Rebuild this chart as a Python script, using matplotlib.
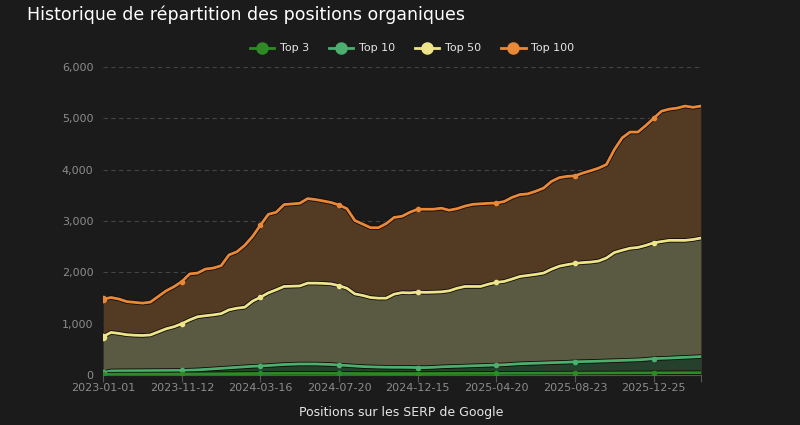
import matplotlib
matplotlib.use("Agg")
import matplotlib.pyplot as plt
import matplotlib.patheffects as pe
from matplotlib.lines import Line2D
from matplotlib.ticker import FuncFormatter

# values, one point per category step
top100 = [1478, 1510, 1480, 1430, 1415, 1400, 1420, 1530, 1640, 1720,
          1820, 1970, 1986, 2064, 2083, 2130, 2340, 2400, 2526, 2700,
          2920, 3130, 3170, 3320, 3333, 3345, 3437, 3418, 3390, 3360,
          3310, 3240, 3010, 2940, 2870, 2870, 2950, 3070, 3092, 3170,
          3230, 3230, 3230, 3250, 3210, 3240, 3290, 3325, 3335, 3345,
          3350, 3380, 3460, 3515, 3529, 3580, 3640, 3770, 3845, 3870,
          3880, 3935, 3980, 4030, 4100, 4390, 4620, 4733, 4733, 4860,
          5000, 5140, 5180, 5200, 5240, 5215, 5240]
top50 = [750, 830, 810, 785, 775, 770, 780, 840, 900, 940,
         1000, 1074, 1135, 1155, 1172, 1195, 1270, 1302, 1320, 1440,
         1515, 1600, 1660, 1725, 1730, 1735, 1790, 1790, 1785, 1775,
         1740, 1690, 1580, 1550, 1510, 1497, 1497, 1575, 1605, 1600,
         1615, 1610, 1614, 1620, 1640, 1690, 1725, 1725, 1725, 1770,
         1805, 1823, 1870, 1920, 1940, 1960, 1986, 2060, 2120, 2150,
         2175, 2190, 2200, 2220, 2280, 2385, 2430, 2470, 2485, 2525,
         2575, 2600, 2623, 2623, 2623, 2640, 2668]
top10 = [45, 80, 82, 83, 84, 85, 86, 87, 88, 89,
         90, 95, 100, 110, 120, 130, 140, 150, 160, 170,
         176, 185, 195, 205, 210, 215, 215, 215, 210, 205,
         195, 185, 175, 165, 160, 155, 152, 150, 150, 148,
         145, 145, 150, 160, 165, 170, 175, 180, 185, 190,
         195, 200, 210, 220, 225, 230, 235, 240, 245, 250,
         258, 262, 265, 270, 275, 280, 285, 290, 295, 305,
         320, 325, 330, 338, 345, 352, 360]
top3 = [10, 18, 18, 19, 19, 19, 20, 20, 20, 21,
        21, 22, 22, 23, 24, 25, 26, 27, 28, 29,
        30, 30, 31, 31, 32, 32, 32, 32, 31, 31,
        30, 30, 29, 29, 28, 28, 28, 28, 28, 28,
        28, 28, 29, 29, 30, 30, 31, 31, 32, 32,
        33, 33, 34, 34, 35, 35, 36, 36, 37, 37,
        38, 38, 39, 39, 40, 40, 41, 41, 42, 42,
        43, 43, 44, 44, 45, 45, 46]
tick_labels = ["2023-01-01", "2023-11-12", "2024-03-16", "2024-07-20",
               "2024-12-15", "2025-04-20", "2025-08-23", "2025-12-25"]
tick_every = 10

bg = "#1b1b1b"
series = [
    ("Top 100", top100, "#e8893a", "#533a23"),
    ("Top 50", top50, "#eee48a", "#5a5941"),
    ("Top 10", top10, "#4caf6e", "#25402d"),
    ("Top 3", top3, "#2f8a25", "#20381f"),
]

fig = plt.figure(figsize=(8, 4.25), dpi=100, facecolor=bg)
ax = fig.add_axes([0.129, 0.1176, 0.747, 0.7247], facecolor=bg)

x = list(range(len(top100)))
for name, vals, lc, fc in series:
    ax.fill_between(x, 0, vals, color=fc, lw=0, zorder=1)
for name, vals, lc, fc in series:
    ax.plot(x, vals, color=lc, lw=2, zorder=3, solid_joinstyle="round",
            path_effects=[pe.Stroke(linewidth=3.2, foreground="#0e0a08"), pe.Normal()])
    ax.plot(x[::tick_every], vals[::tick_every], ls="none", marker="o", ms=3,
            color=lc, zorder=4)
    ax.plot(x[:1], vals[:1], ls="none", marker="o", ms=4.5, color=lc, zorder=4)

ax.set_xlim(0, len(x) - 1)
ax.set_ylim(0, 6000)
ax.set_yticks(range(0, 6001, 1000))
ax.yaxis.set_major_formatter(FuncFormatter(lambda v, p: f"{int(v):,}"))
ax.set_xticks(list(range(0, len(tick_labels) * tick_every, tick_every)) + [len(x) - 1])
ax.set_xticklabels(tick_labels + [""])
ax.grid(axis="y", color="#444444", linestyle=(0, (4, 3)), lw=0.8, zorder=0)
ax.set_axisbelow(True)
for s in ["top", "right", "left"]:
    ax.spines[s].set_visible(False)
ax.spines["bottom"].set_color("#555555")
ax.tick_params(axis="y", length=0, colors="#8c8c8c", labelsize=8, pad=7)
ax.tick_params(axis="x", length=5, color="#555555", colors="#8c8c8c", labelsize=8, pad=1)

fig.text(0.034, 0.966, "Historique de répartition des positions organiques",
         color="white", fontsize=12.5, ha="left", va="center")
fig.text(0.502, 0.03, "Positions sur les SERP de Google", color="#e6e6e6",
         fontsize=9, ha="center", va="center")

handles = [Line2D([], [], color=lc, lw=2, marker="o", ms=8, markerfacecolor=lc,
                  markeredgecolor=lc) for _, _, lc, _ in series[::-1]]
labels = [n for n, _, _, _ in series[::-1]]
fig.legend(handles, labels, loc="center", bbox_to_anchor=(0.515, 0.886), ncol=4,
           frameon=False, fontsize=8, labelcolor="#e6e6e6", handlelength=2.2,
           handletextpad=0.5, columnspacing=1.8)

fig.savefig("out.png", dpi=100, facecolor=bg)
